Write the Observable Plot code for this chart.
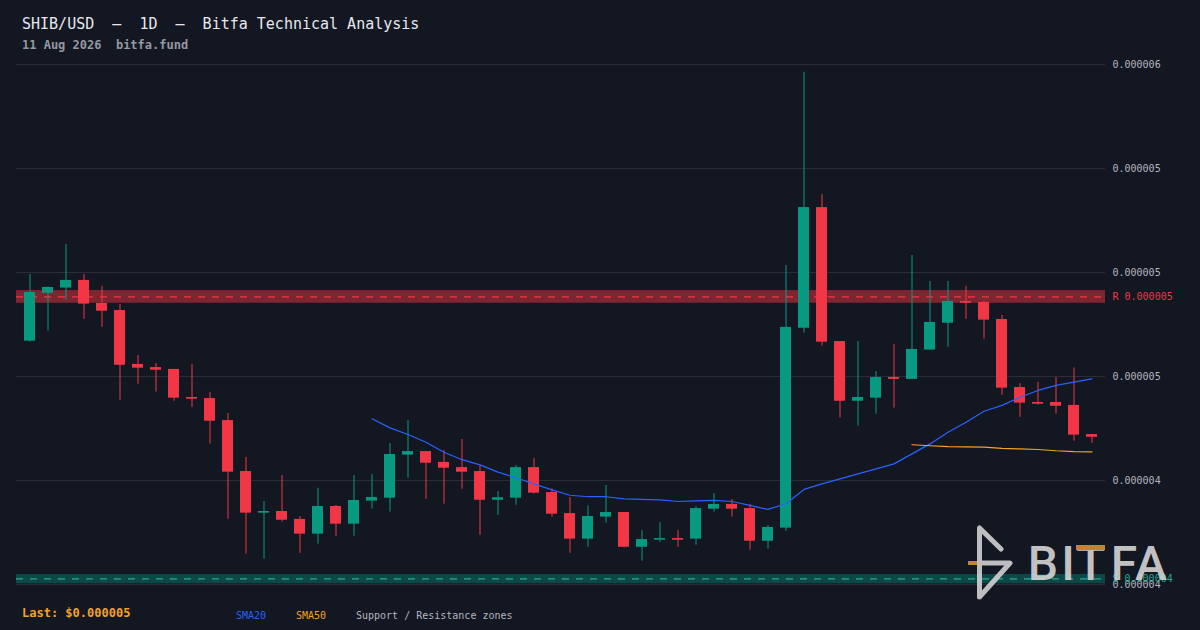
<!DOCTYPE html>
<html>
<head>
<meta charset="utf-8">
<script src="https://cdn.jsdelivr.net/npm/d3@7"></script>
<script src="https://cdn.jsdelivr.net/npm/@observablehq/plot@0.6"></script>
<style>
html, body { margin: 0; padding: 0; background: #131722; }
#wrap { position: relative; width: 1200px; height: 630px; background: #131722; overflow: hidden; }
#wrap > svg { position: absolute; left: 0; top: 0; }
#overlay { pointer-events: none; }
</style>
</head>
<body>
<div id="wrap"></div>
<script>
// Prices in units of 1e-6 USD (SHIB/USD daily candles)
const day = [1,2,3,4,5,6,7,8,9,10,11,12,13,14,15,16,17,18,19,20,21,22,23,24,25,26,27,28,29,30,
             31,32,33,34,35,36,37,38,39,40,41,42,43,44,45,46,47,48,49,50,51,52,53,54,55,56,57,58,59,60];
const open  = [4.670,4.900,4.925,4.962,4.851,4.817,4.558,4.543,4.534,4.399,4.394,4.288,4.043,3.843,3.851,3.813,3.742,3.875,3.790,3.901,
               3.915,4.122,4.139,4.087,4.062,4.043,3.905,3.915,4.062,3.942,3.841,3.718,3.824,3.846,3.679,3.713,3.721,3.718,3.862,3.885,
               3.865,3.708,3.771,4.732,5.312,4.668,4.381,4.396,4.495,4.486,4.627,4.756,4.861,4.856,4.774,4.447,4.375,4.375,4.361,4.221];
const high  = [4.990,4.930,5.135,4.990,4.933,4.846,4.601,4.563,4.534,4.558,4.423,4.322,4.111,3.899,4.024,3.827,3.962,3.880,4.024,4.029,
               4.178,4.288,4.139,4.144,4.197,4.071,3.947,4.072,4.106,3.960,3.918,3.878,3.976,3.846,3.760,3.798,3.760,3.875,3.937,3.909,
               3.885,3.784,5.034,5.962,5.375,4.668,4.668,4.524,4.654,5.082,4.957,4.957,4.933,4.861,4.793,4.466,4.471,4.495,4.541,4.221];
const low   = [4.665,4.718,4.867,4.775,4.737,4.386,4.463,4.425,4.381,4.352,4.175,3.814,3.646,3.622,3.800,3.650,3.694,3.732,3.732,3.862,
               3.848,4.011,3.910,3.886,3.958,3.737,3.833,3.881,3.934,3.824,3.650,3.679,3.795,3.676,3.612,3.703,3.679,3.689,3.848,3.824,
               3.665,3.670,3.756,4.708,4.646,4.300,4.261,4.319,4.348,4.486,4.627,4.641,4.775,4.679,4.410,4.304,4.362,4.319,4.189,4.179];
const close = [4.904,4.928,4.962,4.848,4.814,4.554,4.540,4.530,4.396,4.391,4.285,4.040,3.843,3.851,3.809,3.742,3.875,3.790,3.904,3.918,
               4.125,4.139,4.083,4.059,4.040,3.905,3.917,4.062,3.939,3.838,3.718,3.827,3.846,3.679,3.716,3.721,3.713,3.865,3.885,3.862,
               3.708,3.774,4.736,5.312,4.665,4.381,4.399,4.495,4.486,4.630,4.760,4.861,4.852,4.771,4.444,4.372,4.367,4.357,4.218,4.208];

const sma20Day = [20,21,22,23,24,25,26,27,28,29,30,31,32,33,34,35,36,37,38,39,40,41,42,43,44,45,46,47,48,49,50,51,52,53,54,55,56,57,58,59,60];
const sma20    = [4.297,4.253,4.221,4.184,4.136,4.100,4.075,4.040,4.013,3.984,3.955,3.929,3.922,3.922,3.912,3.909,3.907,3.899,3.902,3.904,
                  3.899,3.880,3.861,3.888,3.957,3.984,4.008,4.032,4.056,4.080,4.128,4.176,4.232,4.280,4.333,4.361,4.400,4.433,4.457,4.473,4.489];
const sma50Day = [50,51,52,53,54,55,56,57,58,59,60];
const sma50    = [4.172,4.167,4.163,4.162,4.160,4.154,4.152,4.149,4.143,4.139,4.138];

// Support / resistance zones
const zoneType  = ["S", "R"];
const zoneLow   = [3.503, 4.852];
const zoneHigh  = [3.548, 4.913];
const zoneMid   = [3.527, 4.883];
const zoneLabel = ["S 0.000004", "R 0.000005"];

// Y ticks and their printed labels
const yTicks      = [3.5, 4.0, 4.5, 5.0, 5.5, 6.0];
const yTickLabels = ["0.000004", "0.000004", "0.000005", "0.000005", "0.000005", "0.000006"];

const titleText = "SHIB/USD  —  1D  —  Bitfa Technical Analysis";
const subtitleText = "11 Aug 2026  bitfa.fund";
const lastText = "Last: $0.000005";
const legendItems = ["SMA20", "SMA50", "Support / Resistance zones"];

const UP = "#089981", DOWN = "#f23645", BLUE = "#2962ff", ORANGE = "#f5a027", TEAL = "#22ab94";

const candles = day.map((d, i) => ({day: d, open: open[i], high: high[i], low: low[i], close: close[i]}));
const s20 = sma20Day.map((d, i) => ({day: d, v: sma20[i]}));
const s50 = sma50Day.map((d, i) => ({day: d, v: sma50[i]}));
const zones = zoneType.map((t, i) => ({type: t, lo: zoneLow[i], hi: zoneHigh[i], mid: zoneMid[i], label: zoneLabel[i]}));
const col = d => d.close >= d.open ? UP : DOWN;
const zcol = d => d.type === "R" ? DOWN : TEAL;

const chart = Plot.plot({
  width: 1200,
  height: 630,
  marginTop: 64,
  marginBottom: 46,
  marginLeft: 16,
  marginRight: 95,
  style: {background: "#131722", color: "#b2b5be", fontFamily: "DejaVu Sans Mono, monospace", fontSize: "10px"},
  x: {type: "band", domain: day, paddingInner: 0.4, paddingOuter: 0.2, axis: null},
  y: {domain: [3.5, 6.0], axis: null},
  marks: [
    Plot.ruleY(yTicks, {stroke: "#2a2e39", strokeWidth: 1}),
    Plot.rect(zones, {y1: "lo", y2: "hi", fill: d => d.type === "R" ? "#f23645" : "#089981", fillOpacity: d => d.type === "R" ? 0.48 : 0.38}),
    Plot.ruleY(zones, {y: "mid", stroke: d => d.type === "R" ? DOWN : TEAL, strokeWidth: 1.3, strokeDasharray: "7,7"}),
    Plot.ruleX(candles, {x: "day", y1: "low", y2: "high", stroke: col, strokeWidth: 1}),
    Plot.barY(candles, {x: "day", y1: "open", y2: "close", fill: col}),
    Plot.line(s20, {x: "day", y: "v", stroke: BLUE, strokeWidth: 1.2}),
    Plot.line(s50, {x: "day", y: "v", stroke: ORANGE, strokeWidth: 1.2}),
    Plot.axisY(yTicks, {anchor: "right", tickSize: 0, tickPadding: 7, fill: "#b2b5be", fontSize: 10,
      tickFormat: d => yTickLabels[yTicks.indexOf(d)]}),
    Plot.text(zones, {y: "mid", text: "label", frameAnchor: "right", dx: 7, textAnchor: "start", fill: zcol, fontSize: 10})
  ]
});
document.getElementById("wrap").appendChild(chart);

// Overlay: titles, legend, watermark logo
const ns = "http://www.w3.org/2000/svg";
const ov = d3.select("#wrap").append("svg").attr("id", "overlay")
  .attr("width", 1200).attr("height", 630).attr("xmlns", ns)
  .style("font-family", "DejaVu Sans Mono, monospace");

ov.append("text").attr("x", 22).attr("y", 29).attr("fill", "#e6e8ee").attr("font-size", 15)
  .style("white-space", "pre").text(titleText);
ov.append("text").attr("x", 22).attr("y", 48.5).attr("fill", "#9598a1").attr("font-size", 12).attr("font-weight", "bold")
  .style("white-space", "pre").text(subtitleText);

ov.append("text").attr("x", 22).attr("y", 617).attr("fill", ORANGE).attr("font-size", 12).attr("font-weight", "bold")
  .text(lastText);
const legX = [236, 296, 356];
const legC = [BLUE, ORANGE, "#b2b5be"];
legendItems.forEach((t, i) => {
  ov.append("text").attr("x", legX[i]).attr("y", 619).attr("fill", legC[i]).attr("font-size", 10).text(t);
});

// Watermark logo
const logo = ov.append("g").attr("opacity", 0.88);
logo.append("path").attr("d", "M1001,549 L979.5,528 L979.5,597 L1010,563 L980,563")
  .attr("fill", "none").attr("stroke", "#d6d6d6").attr("stroke-width", 5)
  .attr("stroke-linecap", "round").attr("stroke-linejoin", "round");
logo.append("rect").attr("x", 968).attr("y", 561).attr("width", 9).attr("height", 4).attr("fill", "#e0922a");
const logoLetters = ["B", "I", "T", "F", "A"];
const logoX = [1043, 1068, 1090.5, 1124, 1151];
logoLetters.forEach((t, i) => {
  logo.append("text").attr("x", logoX[i]).attr("y", 580).attr("text-anchor", "middle")
    .attr("font-family", "Roboto, sans-serif").attr("font-size", 48).attr("font-weight", 500)
    .attr("fill", "#d9d9d9").text(t);
});
logo.append("rect").attr("x", 1076).attr("y", 545).attr("width", 29).attr("height", 5).attr("fill", "#e0922a");
</script>
</body>
</html>
